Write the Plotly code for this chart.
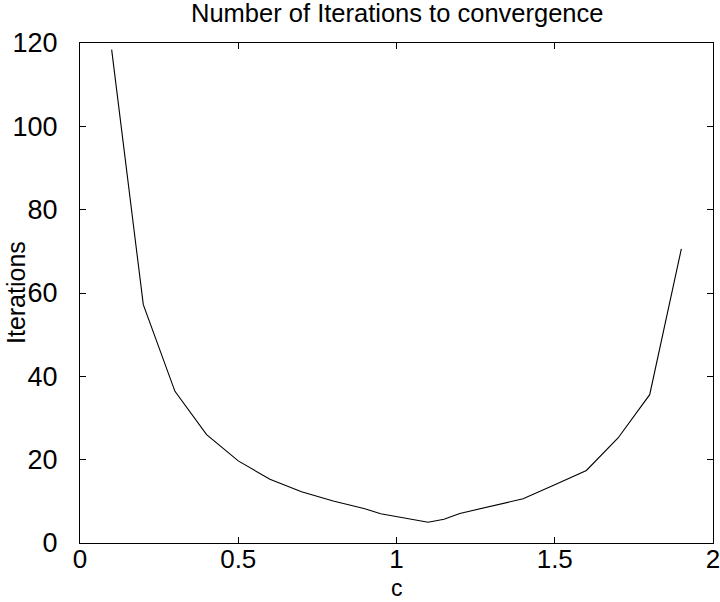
import plotly.graph_objects as go

c_values = [0.1, 0.2, 0.3, 0.4, 0.5, 0.6, 0.7, 0.8, 0.9, 0.95, 1.1, 1.15, 1.2, 1.3, 1.4, 1.5, 1.6, 1.7, 1.8, 1.9]
iterations = [118.4, 57.2, 36.4, 26.0, 19.7, 15.3, 12.3, 10.1, 8.2, 7.0, 5.0, 5.7, 7.1, 8.8, 10.6, 14.0, 17.4, 25.2, 35.6, 70.6]

x_ticks = [0, 0.5, 1, 1.5, 2]
x_tick_labels = ["0", "0.5", "1", "1.5", "2"]
y_ticks = [0, 20, 40, 60, 80, 100, 120]

fig = go.Figure()
fig.add_trace(go.Scatter(x=c_values, y=iterations, mode="lines",
                         line=dict(color="black", width=1.1), showlegend=False))

font_family = "Liberation Sans, Arial, Helvetica, sans-serif"
fig.update_layout(
    width=720, height=602,
    margin=dict(l=80, r=7, t=43, b=59, autoexpand=False),
    paper_bgcolor="white", plot_bgcolor="white",
    font=dict(family=font_family, color="black", size=26),
    annotations=[
        dict(text="Number of Iterations to convergence", x=0.5, xref="x domain",
             y=1, yref="y domain", yshift=14, xanchor="center", yanchor="bottom",
             showarrow=False, font=dict(size=25.5)),
        dict(text="Iterations", x=(16 - 80) / 633, xref="paper", y=0.5, yref="y domain",
             xanchor="center", yanchor="middle", textangle=-90, showarrow=False,
             font=dict(size=25)),
        dict(text="c", x=0.5, xref="x domain", y=0, yref="y domain", yshift=-45,
             xanchor="center", yanchor="middle", showarrow=False, font=dict(size=23)),
    ],
)
fig.update_xaxes(range=[0, 2], tickvals=x_ticks, ticktext=x_tick_labels, automargin=False,
                 showline=True, linecolor="black", linewidth=1.2, mirror="ticks",
                 ticks="inside", ticklen=6, tickcolor="black", showgrid=False, zeroline=False,
                 tickfont=dict(size=26), ticklabelstandoff=-7, ticklabeloverflow="allow")
fig.update_yaxes(range=[0, 120], tickvals=y_ticks, automargin=False,
                 showline=True, linecolor="black", linewidth=1.2, mirror="ticks",
                 ticks="inside", ticklen=6, tickcolor="black", showgrid=False, zeroline=False,
                 tickfont=dict(size=27), ticklabelstandoff=16)

fig.write_html("out.html")
